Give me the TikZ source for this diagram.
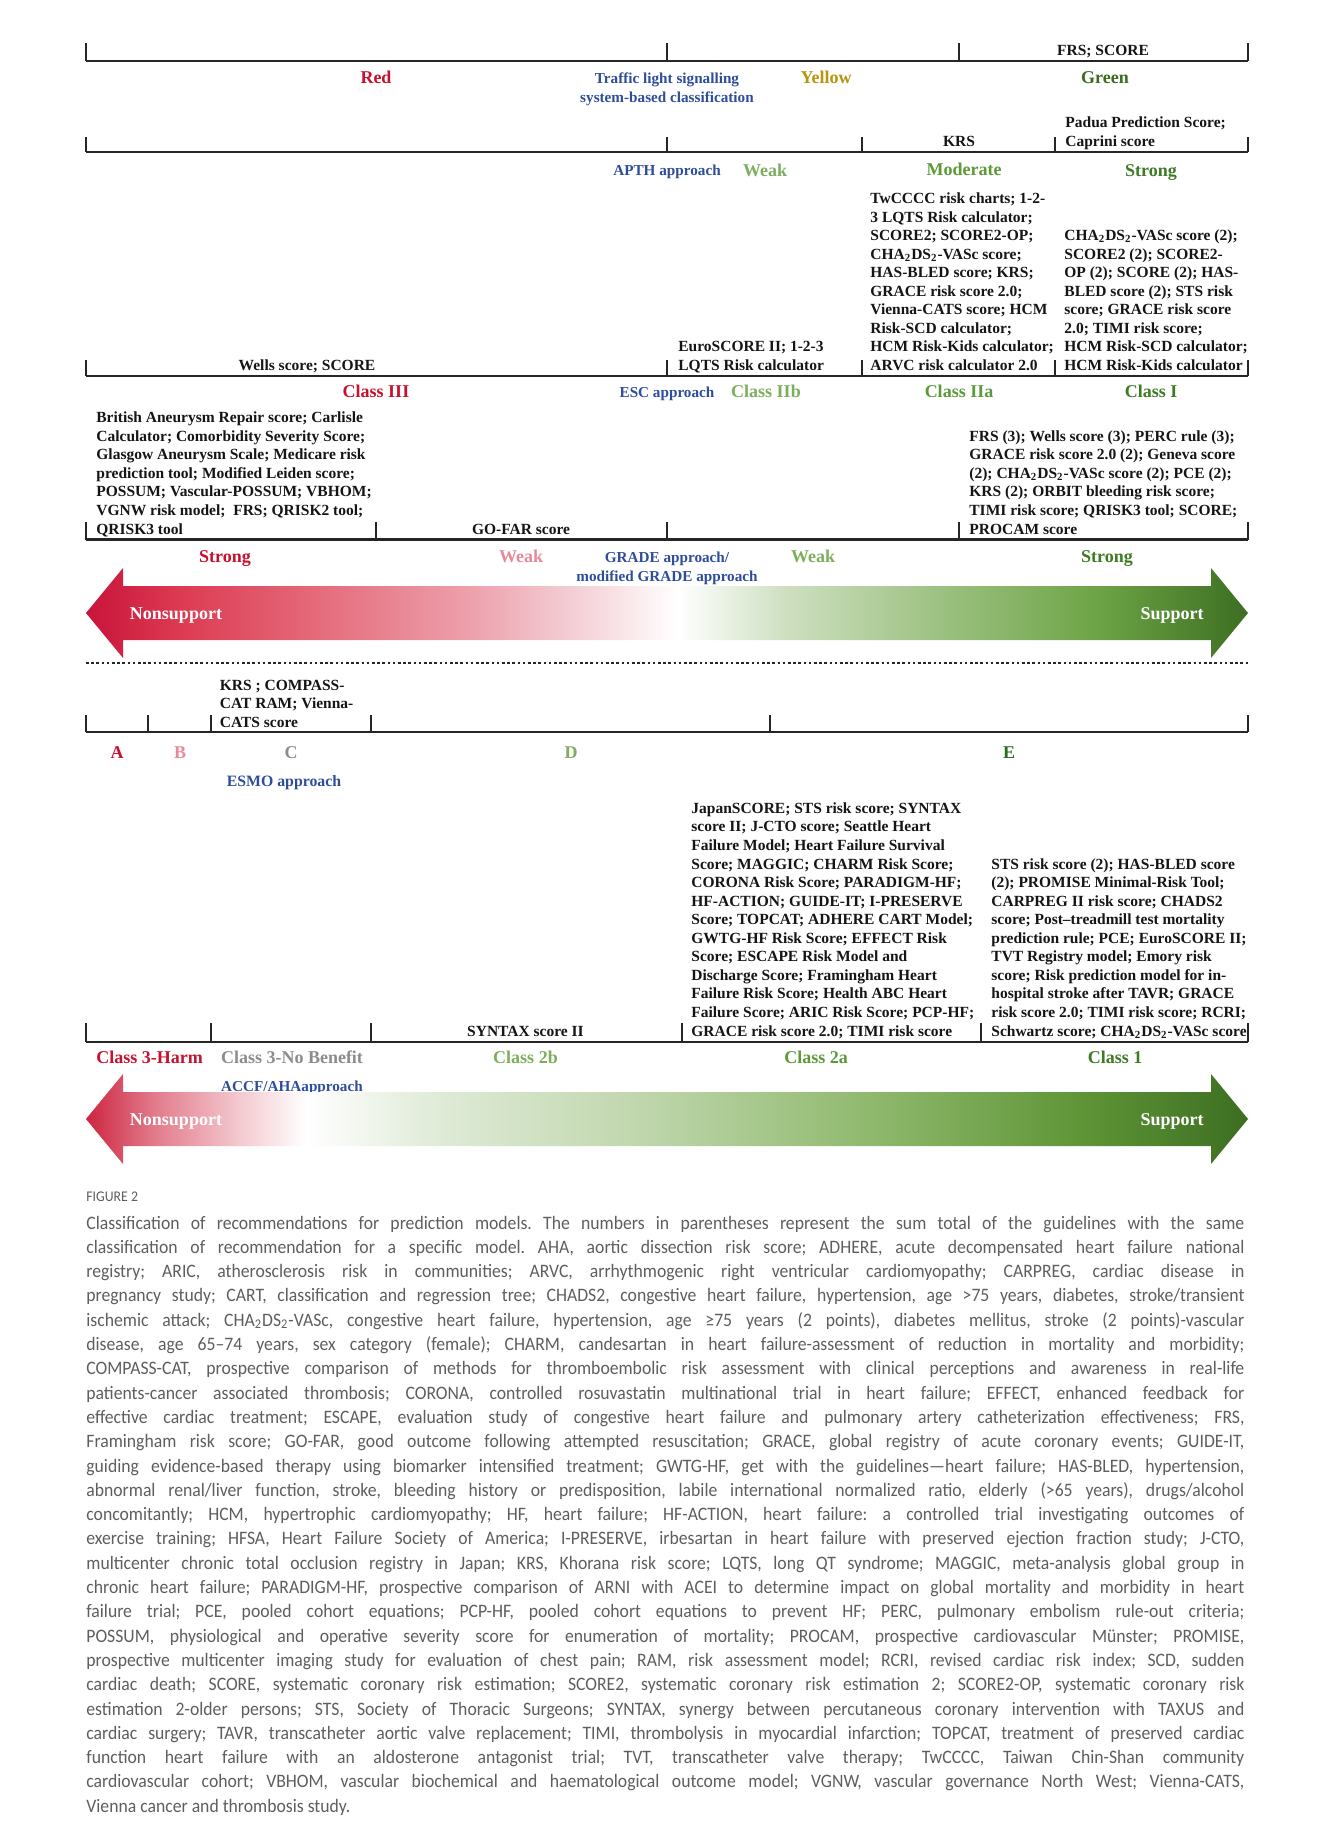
\documentclass[tikz,border=0pt]{standalone}
\usepackage{fontspec}
\setmainfont{Liberation Serif}
\newfontfamily\capfont[FakeStretch=0.93]{Carlito}
\frenchspacing
\definecolor{cred}{HTML}{C8102E}
\definecolor{cpink}{HTML}{E8899B}
\definecolor{cgray}{HTML}{8C8C8C}
\definecolor{clg}{HTML}{7DAE5E}
\definecolor{cmg}{HTML}{5C9A38}
\definecolor{cdg}{HTML}{3F7A25}
\definecolor{cdkg}{HTML}{2F6A1A}
\definecolor{cgreen}{HTML}{3B6B1F}
\definecolor{cblue}{HTML}{2E4D9B}
\definecolor{cyel}{HTML}{B8950C}
\definecolor{ccap}{HTML}{5E5E5E}
\definecolor{ctxt}{HTML}{151515}
% arrow 1 colours
\definecolor{aa0}{HTML}{C8143A}
\definecolor{aa1}{HTML}{DC3A52}
\definecolor{aa2}{HTML}{E56B7B}
\definecolor{aa3}{HTML}{EDA0AC}
\definecolor{aa4}{HTML}{F5D4DA}
\definecolor{aa5}{HTML}{CFE0C2}
\definecolor{aa6}{HTML}{A2C488}
\definecolor{aa7}{HTML}{6DA446}
\definecolor{aa8}{HTML}{3D6E22}
% arrow 2 colours
\definecolor{bb0}{HTML}{CD2540}
\definecolor{bb1}{HTML}{E27C8C}
\definecolor{bb2}{HTML}{F3C7CE}
\definecolor{bb3}{HTML}{E0EBD8}
\definecolor{bb4}{HTML}{BFD6AC}
\definecolor{bb5}{HTML}{8EB86C}
\definecolor{bb6}{HTML}{5E9436}
\definecolor{bb7}{HTML}{3D6E22}
\pgfdeclarehorizontalshading{gradeshade}{100bp}{color(0bp)=(aa0); color(25bp)=(aa0); color(29bp)=(aa1); color(35bp)=(aa2); color(41.5bp)=(aa3); color(46.5bp)=(aa4); color(50.5bp)=(white); color(55bp)=(aa5); color(61bp)=(aa6); color(68.5bp)=(aa7); color(75bp)=(aa8); color(100bp)=(aa8)}
\pgfdeclarehorizontalshading{accfshade}{100bp}{color(0bp)=(bb0); color(25bp)=(bb0); color(28bp)=(bb1); color(31.5bp)=(bb2); color(34.5bp)=(white); color(40bp)=(bb3); color(49bp)=(bb4); color(59bp)=(bb5); color(68bp)=(bb6); color(75bp)=(bb7); color(100bp)=(bb7)}
\newcommand\blk[1]{\vbox{\baselineskip=9.275pt\lineskiplimit=-\maxdimen\lineskip=0pt #1}}
\newcommand\lne[1]{\hbox{#1}}
\newcommand\cl[1]{\hbox{\makebox[579pt][s]{#1}}}
\newcommand\chads{CHA\textsubscript{2}DS\textsubscript{2}-VASc}
\tikzset{
  body/.style={font=\fontsize{7.75}{9.275}\selectfont\bfseries, text=ctxt, inner sep=0pt},
  hd/.style={font=\fontsize{9}{10.8}\selectfont\bfseries, inner sep=0pt, anchor=base},
  ap/.style={font=\fontsize{7.6}{9.3}\selectfont\bfseries, text=cblue, inner sep=0pt, anchor=base},
  brk/.style={line width=1.1pt, draw=black!85},
  tck/.style={line width=0.6pt, draw=black!85},
  arrowlbl/.style={font=\fontsize{9}{10.8}\selectfont\bfseries, text=white, inner sep=0pt, anchor=base},
}
\begin{document}
\begin{tikzpicture}[x=0.5pt,y=-0.5pt]
\useasboundingbox (0,0) rectangle (1330,1831);
\fill[white] (0,0) rectangle (1330,1831);

% ---------------- Traffic light ----------------
\draw[brk] (86,61) -- (1248,61);
\foreach \x in {86,667,959,1248} \draw[tck] (\x,43) -- (\x,61);
\node[body,anchor=base] (frs) at (1103,55.5) {FRS; SCORE};
\node[hd,text=cred] (red) at (376,83.5) {Red};
\node[ap] (tl1) at (667,83) {Traffic light signalling};
\node[ap] (tl2) at (667,102) {system-based classification};
\node[hd,text=cyel] (yel) at (826,83.5) {Yellow};
\node[hd,text=cgreen] (grn) at (1105,83.5) {Green};

% ---------------- APTH ----------------
\draw[brk] (86,152) -- (1248,152);
\foreach \x in {86,667,862,1055,1248} \draw[tck] (\x,137) -- (\x,152);
\node[body,anchor=base] (krs) at (959,146.5) {KRS};
\node[body,anchor=base west] (padua) at (1065,146.5) {\blk{\lne{Padua Prediction Score;}\lne{Caprini score}}};
\node[ap] (apth) at (667,175.5) {APTH approach};
\node[hd,text=clg] (weak1) at (765,176) {Weak};
\node[hd,text=cmg] (mod) at (964,175) {Moderate};
\node[hd,text=cdg] (strong1) at (1151,176) {Strong};

% ---------------- ESC ----------------
\draw[brk] (86,376) -- (1248,376);
\foreach \x in {86,667,862,1055,1248} \draw[tck] (\x,360) -- (\x,376);
\node[body,anchor=base] (wells) at (307,370.5) {Wells score; SCORE};
\node[body,anchor=base west] (euro) at (678,370.5) {\blk{\lne{EuroSCORE II; 1-2-3}\lne{LQTS Risk calculator}}};
\node[body,anchor=base west] (esc2a) at (870,370.5) {\blk{%
\lne{TwCCCC risk charts; 1-2-}%
\lne{3 LQTS Risk calculator;}%
\lne{SCORE2; SCORE2-OP;}%
\lne{\chads\ score;}%
\lne{HAS-BLED score; KRS;}%
\lne{GRACE risk score 2.0;}%
\lne{Vienna-CATS score; HCM}%
\lne{Risk-SCD calculator;}%
\lne{HCM Risk-Kids calculator;}%
\lne{ARVC risk calculator 2.0}}};
\node[body,anchor=base west] (esc1) at (1064,370.5) {\blk{%
\lne{\chads\ score (2);}%
\lne{SCORE2 (2); SCORE2-}%
\lne{OP (2); SCORE (2); HAS-}%
\lne{BLED score (2); STS risk}%
\lne{score; GRACE risk score}%
\lne{2.0; TIMI risk score;}%
\lne{HCM Risk-SCD calculator;}%
\lne{HCM Risk-Kids calculator}}};
\node[hd,text=cred] (c3) at (376,397.5) {Class III};
\node[ap] (esc) at (667,397) {ESC approach};
\node[hd,text=clg] (c2b) at (766,397.5) {Class IIb};
\node[hd,text=cmg] (c2a) at (959,397.5) {Class IIa};
\node[hd,text=cdg] (c1) at (1151,397.5) {Class I};

% ---------------- GRADE ----------------
\draw[brk] (86,539.5) -- (1248,539.5);
\foreach \x in {86,376,667,959,1248} \draw[tck] (\x,522) -- (\x,539.5);
\node[body,anchor=base west] (gleft) at (96,534) {\blk{%
\lne{British Aneurysm Repair score; Carlisle}%
\lne{Calculator; Comorbidity Severity Score;}%
\lne{Glasgow Aneurysm Scale; Medicare risk}%
\lne{prediction tool; Modified Leiden score;}%
\lne{POSSUM; Vascular-POSSUM; VBHOM;}%
\lne{VGNW risk model;\ \ FRS; QRISK2 tool;}%
\lne{QRISK3 tool}}};
\node[body,anchor=base] (gofar) at (521,534) {GO-FAR score};
\node[body,anchor=base west] (gright) at (969,534) {\blk{%
\lne{FRS (3); Wells score (3); PERC rule (3);}%
\lne{GRACE risk score 2.0 (2); Geneva score}%
\lne{(2); \chads\ score (2); PCE (2);}%
\lne{KRS (2); ORBIT bleeding risk score;}%
\lne{TIMI risk score; QRISK3 tool; SCORE;}%
\lne{PROCAM score}}};
\node[hd,text=cred] (gs1) at (225,562.5) {Strong};
\node[hd,text=cpink] (gw1) at (521,562.5) {Weak};
\node[ap] (grade1) at (667,562) {GRADE approach/};
\node[ap] (grade2) at (667,581.5) {modified GRADE approach};
\node[hd,text=clg] (gw2) at (813,562.5) {Weak};
\node[hd,text=cdg] (gs2) at (1107,562.5) {Strong};

% arrow 1
\shade[shading=gradeshade] (86,613) -- (123,568) -- (123,586) -- (1211,586) -- (1211,568) -- (1248,613) -- (1211,658) -- (1211,640) -- (123,640) -- (123,658) -- cycle;
\node[arrowlbl] (ns1) at (176,619) {Nonsupport};
\node[arrowlbl] (s1) at (1172,619) {Support};

% dotted separator
\draw[line width=1.1pt, black!85, dash pattern=on 1.3pt off 1.3pt] (86,663) -- (1248,663);

% ---------------- ESMO ----------------
\draw[brk] (86,732) -- (1248,732);
\foreach \x in {86,148,211,371,770,1248} \draw[tck] (\x,715) -- (\x,732);
\node[body,anchor=base west] (esmoc) at (219.5,727.5) {\blk{%
\lne{KRS ; COMPASS-}%
\lne{CAT RAM; Vienna-}%
\lne{CATS score}}};
\node[hd,text=cred] (la) at (117,758) {A};
\node[hd,text=cpink] (lb) at (180,758) {B};
\node[hd,text=cgray] (lc) at (291,758) {C};
\node[hd,text=clg] (ld) at (571,758) {D};
\node[hd,text=cdkg] (le) at (1009,758) {E};
\node[ap,font=\fontsize{7.9}{9.3}\selectfont\bfseries] (esmo) at (284,786) {ESMO approach};

% ---------------- ACCF/AHA ----------------
\draw[brk] (86,1041.6) -- (1248,1041.6);
\foreach \x in {86,211,371,682,981,1248} \draw[tck] (\x,1023) -- (\x,1041.6);
\node[body,anchor=base] (syntax) at (525.5,1036) {SYNTAX score II};
\node[body,anchor=base west] (acc2a) at (691,1036) {\blk{%
\lne{JapanSCORE; STS risk score; SYNTAX}%
\lne{score II; J-CTO score; Seattle Heart}%
\lne{Failure Model; Heart Failure Survival}%
\lne{Score; MAGGIC; CHARM Risk Score;}%
\lne{CORONA Risk Score; PARADIGM-HF;}%
\lne{HF-ACTION; GUIDE-IT; I-PRESERVE}%
\lne{Score; TOPCAT; ADHERE CART Model;}%
\lne{GWTG-HF Risk Score; EFFECT Risk}%
\lne{Score; ESCAPE Risk Model and}%
\lne{Discharge Score; Framingham Heart}%
\lne{Failure Risk Score; Health ABC Heart}%
\lne{Failure Score; ARIC Risk Score; PCP-HF;}%
\lne{GRACE risk score 2.0; TIMI risk score}}};
\node[body,anchor=base west] (acc1) at (991,1036) {\blk{%
\lne{STS risk score (2); HAS-BLED score}%
\lne{(2); PROMISE Minimal-Risk Tool;}%
\lne{CARPREG II risk score; CHADS2}%
\lne{score; Post–treadmill test mortality}%
\lne{prediction rule; PCE; EuroSCORE II;}%
\lne{TVT Registry model; Emory risk}%
\lne{score; Risk prediction model for in-}%
\lne{hospital stroke after TAVR; GRACE}%
\lne{risk score 2.0; TIMI risk score; RCRI;}%
\lne{Schwartz score; \chads\ score}}};
\node[hd,text=cred] (harm) at (149.5,1063.5) {Class 3-Harm};
\node[hd,text=cgray] (nob) at (292,1063.5) {Class 3-No Benefit};
\node[hd,text=clg] (k2b) at (525.5,1063.5) {Class 2b};
\node[hd,text=cmg] (k2a) at (816,1063.5) {Class 2a};
\node[hd,text=cdg] (k1) at (1115,1063.5) {Class 1};
\node[ap] (accf) at (292,1091) {ACCF/AHAapproach};

% arrow 2
\shade[shading=accfshade] (86,1119) -- (123,1074) -- (123,1092) -- (1211,1092) -- (1211,1074) -- (1248,1119) -- (1211,1164) -- (1211,1146) -- (123,1146) -- (123,1164) -- cycle;
\node[arrowlbl] (ns2) at (176,1125) {Nonsupport};
\node[arrowlbl] (s2) at (1172,1125) {Support};

% ---------------- Caption ----------------
\node[inner sep=0pt,anchor=base west,text=ccap,font=\capfont\fontsize{7.4}{9}\selectfont] (fig) at (86,1201) {FIGURE 2};
\node[inner sep=0pt,anchor=base west,text=ccap,font=\capfont\fontsize{9.5}{12.15}\selectfont] (cap) at (86,1812.2) {\vbox{\baselineskip=12.15pt\lineskiplimit=-\maxdimen\lineskip=0pt
\cl{Classification of recommendations for prediction models. The numbers in parentheses represent the sum total of the guidelines with the same}
\cl{classification of recommendation for a specific model. AHA, aortic dissection risk score; ADHERE, acute decompensated heart failure national}
\cl{registry; ARIC, atherosclerosis risk in communities; ARVC, arrhythmogenic right ventricular cardiomyopathy; CARPREG, cardiac disease in}
\cl{pregnancy study; CART, classification and regression tree; CHADS2, congestive heart failure, hypertension, age >75 years, diabetes, stroke/transient}
\cl{ischemic attack; \chads, congestive heart failure, hypertension, age ≥75 years (2 points), diabetes mellitus, stroke (2 points)-vascular}
\cl{disease, age 65–74 years, sex category (female); CHARM, candesartan in heart failure-assessment of reduction in mortality and morbidity;}
\cl{COMPASS-CAT, prospective comparison of methods for thromboembolic risk assessment with clinical perceptions and awareness in real-life}
\cl{patients-cancer associated thrombosis; CORONA, controlled rosuvastatin multinational trial in heart failure; EFFECT, enhanced feedback for}
\cl{effective cardiac treatment; ESCAPE, evaluation study of congestive heart failure and pulmonary artery catheterization effectiveness; FRS,}
\cl{Framingham risk score; GO-FAR, good outcome following attempted resuscitation; GRACE, global registry of acute coronary events; GUIDE-IT,}
\cl{guiding evidence-based therapy using biomarker intensified treatment; GWTG-HF, get with the guidelines—heart failure; HAS-BLED, hypertension,}
\cl{abnormal renal/liver function, stroke, bleeding history or predisposition, labile international normalized ratio, elderly (>65 years), drugs/alcohol}
\cl{concomitantly; HCM, hypertrophic cardiomyopathy; HF, heart failure; HF-ACTION, heart failure: a controlled trial investigating outcomes of}
\cl{exercise training; HFSA, Heart Failure Society of America; I-PRESERVE, irbesartan in heart failure with preserved ejection fraction study; J-CTO,}
\cl{multicenter chronic total occlusion registry in Japan; KRS, Khorana risk score; LQTS, long QT syndrome; MAGGIC, meta-analysis global group in}
\cl{chronic heart failure; PARADIGM-HF, prospective comparison of ARNI with ACEI to determine impact on global mortality and morbidity in heart}
\cl{failure trial; PCE, pooled cohort equations; PCP-HF, pooled cohort equations to prevent HF; PERC, pulmonary embolism rule-out criteria;}
\cl{POSSUM, physiological and operative severity score for enumeration of mortality; PROCAM, prospective cardiovascular Münster; PROMISE,}
\cl{prospective multicenter imaging study for evaluation of chest pain; RAM, risk assessment model; RCRI, revised cardiac risk index; SCD, sudden}
\cl{cardiac death; SCORE, systematic coronary risk estimation; SCORE2, systematic coronary risk estimation 2; SCORE2-OP, systematic coronary risk}
\cl{estimation 2-older persons; STS, Society of Thoracic Surgeons; SYNTAX, synergy between percutaneous coronary intervention with TAXUS and}
\cl{cardiac surgery; TAVR, transcatheter aortic valve replacement; TIMI, thrombolysis in myocardial infarction; TOPCAT, treatment of preserved cardiac}
\cl{function heart failure with an aldosterone antagonist trial; TVT, transcatheter valve therapy; TwCCCC, Taiwan Chin-Shan community}
\cl{cardiovascular cohort; VBHOM, vascular biochemical and haematological outcome model; VGNW, vascular governance North West; Vienna-CATS,}
\hbox{Vienna cancer and thrombosis study.}}};
\end{tikzpicture}
\end{document}
